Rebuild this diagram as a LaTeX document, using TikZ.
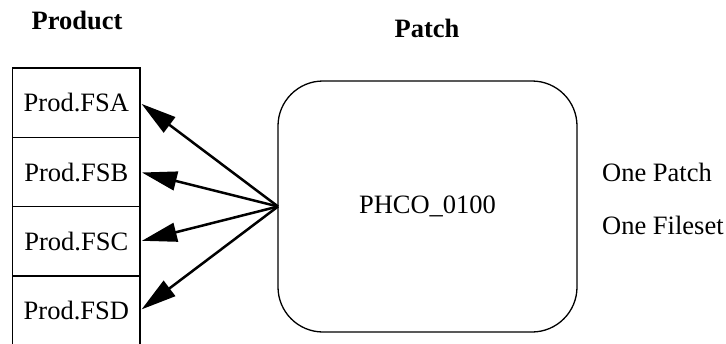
\documentclass[tikz,border=0pt]{standalone}
\usepackage{fontspec}
\setmainfont{Liberation Serif}
\usetikzlibrary{arrows.meta, positioning}

\begin{document}
\begin{tikzpicture}[x=1pt, y=1pt,
  cell/.style={draw, line width=1.4pt, minimum width=127.3pt, minimum height=69.3pt, inner sep=0pt, outer sep=0pt, font=\fontsize{26.5}{31}\selectfont},
  patchbox/.style={draw, line width=1.3pt, rounded corners=45pt, minimum width=299pt, minimum height=251pt, inner sep=0pt, outer sep=0pt, font=\fontsize{26.5}{31}\selectfont},
  title/.style={font=\fontsize{26.5}{31}\selectfont\bfseries},
  note/.style={anchor=west, inner sep=0pt, font=\fontsize{26.5}{31}\selectfont},
  link/.style={-{Triangle[length=35pt, width=19pt]}, line width=2.5pt, shorten >=2pt}
]
  \useasboundingbox (0,0) rectangle (726,-343);
  \node[title] (prodtitle) at (77,-20) {Product};
  \node[title] (patchtitle) at (427,-28) {Patch};
  % product filesets
  \node[cell] (fsa) at (76.35,-102.7) {Prod.FSA};
  \node[cell, below=0pt of fsa] (fsb) {Prod.FSB};
  \node[cell, below=0pt of fsb] (fsc) {Prod.FSC};
  \node[cell, below=0pt of fsc] (fsd) {Prod.FSD};
  % the patch
  \node[patchbox] (patch) at (427.5,-206.5) {PHCO\_0100};
  \node[note] (onepatch) at (602,-172) {One Patch};
  \node[note] (onefileset) at (602,-225) {One Fileset};
  \foreach \c in {fsa,fsb,fsc,fsd}
    \draw[link] (patch.west) -- (\c.east);
\end{tikzpicture}
\end{document}
